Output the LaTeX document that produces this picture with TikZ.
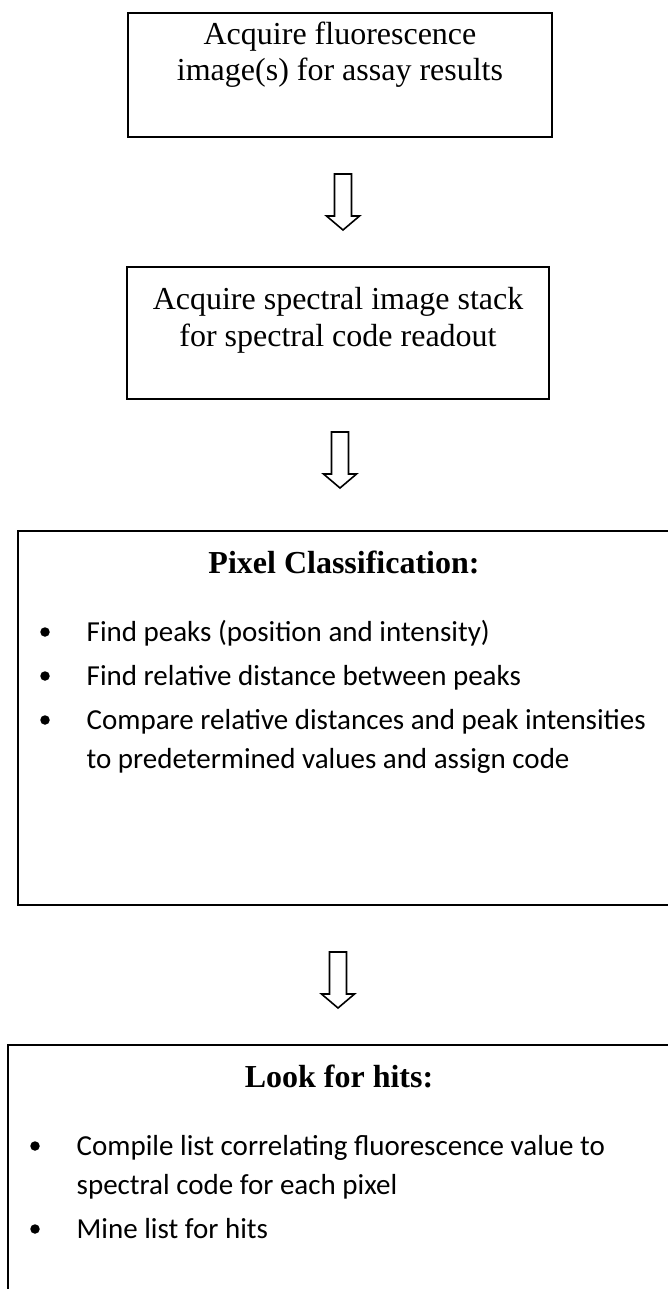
\documentclass[tikz,border=0pt]{standalone}
\usepackage{fontspec}
\setmainfont{Liberation Serif}
\newfontfamily\bodyfont{Carlito}

\begin{document}
\begin{tikzpicture}[x=1pt, y=-1pt,
  stepbox/.style={draw=black, line width=2pt, inner sep=0pt},
  steptext/.style={font=\fontsize{32}{38}\selectfont, inner sep=0pt, anchor=base},
  headtext/.style={font=\bfseries\fontsize{32}{38}\selectfont, inner sep=0pt, anchor=base},
  itemtext/.style={font=\bodyfont\fontsize{29}{40}\selectfont, inner sep=0pt, anchor=base west},
  bulletdot/.style={circle, fill=black, inner sep=0pt, minimum size=9.5pt},
  blockdown/.pic={
    \draw[line width=1.6pt, line join=miter, fill=white]
      (-8.5,-28) -- (8.5,-28) -- (8.5,14) -- (16.5,14) -- (0,28)
      -- (-16.5,14) -- (-8.5,14) -- cycle;
  }
]
\useasboundingbox (0,0) rectangle (668,1289);

\begin{scope}
  \clip (0,0) rectangle (668,1289);

  % process boxes
  \node[stepbox, minimum width=424pt, minimum height=124pt] (box1) at (340,75) {};
  \node[stepbox, minimum width=422pt, minimum height=132pt] (box2) at (338,333) {};
  \node[stepbox, minimum width=652pt, minimum height=374pt] (box3) at (344,718) {};
  \node[stepbox, minimum width=662pt, minimum height=295pt] (box4) at (339,1192.5) {};

  % hollow arrows between the steps
  \coordinate (arr1) at (343,202);
  \coordinate (arr2) at (340,460);
  \coordinate (arr3) at (338,980);
  \pic at (arr1) {blockdown};
  \pic at (arr2) {blockdown};
  \pic at (arr3) {blockdown};
\end{scope}

% step 1
\node[steptext] (t1a) at (340,45) {Acquire fluorescence};
\node[steptext] (t1b) at (340,81) {image(s) for assay results};

% step 2
\node[steptext] (t2a) at (338,309) {Acquire spectral image stack};
\node[steptext] (t2b) at (338,346) {for spectral code readout};

% step 3
\node[headtext] (h3) at (344,573) {Pixel Classification:};
\node[bulletdot] (d3a) at (45,632) {};
\node[itemtext] (i3a) at (86.5,641) {Find peaks (position and intensity)};
\node[bulletdot] (d3b) at (45,676) {};
\node[itemtext] (i3b) at (86.5,685) {Find relative distance between peaks};
\node[bulletdot] (d3c) at (45,720) {};
\node[itemtext] (i3c) at (86.5,729) {Compare relative distances and peak intensities};
\node[itemtext] (i3d) at (86.5,768) {to predetermined values and assign code};

% step 4
\node[headtext] (h4) at (339,1087) {Look for hits:};
\node[bulletdot] (d4a) at (35,1146) {};
\node[itemtext] (i4a) at (76.5,1155) {Compile list correlating fluorescence value to};
\node[itemtext] (i4b) at (76.5,1194) {spectral code for each pixel};
\node[bulletdot] (d4b) at (35,1229) {};
\node[itemtext] (i4c) at (76.5,1238) {Mine list for hits};
\end{tikzpicture}
\end{document}
